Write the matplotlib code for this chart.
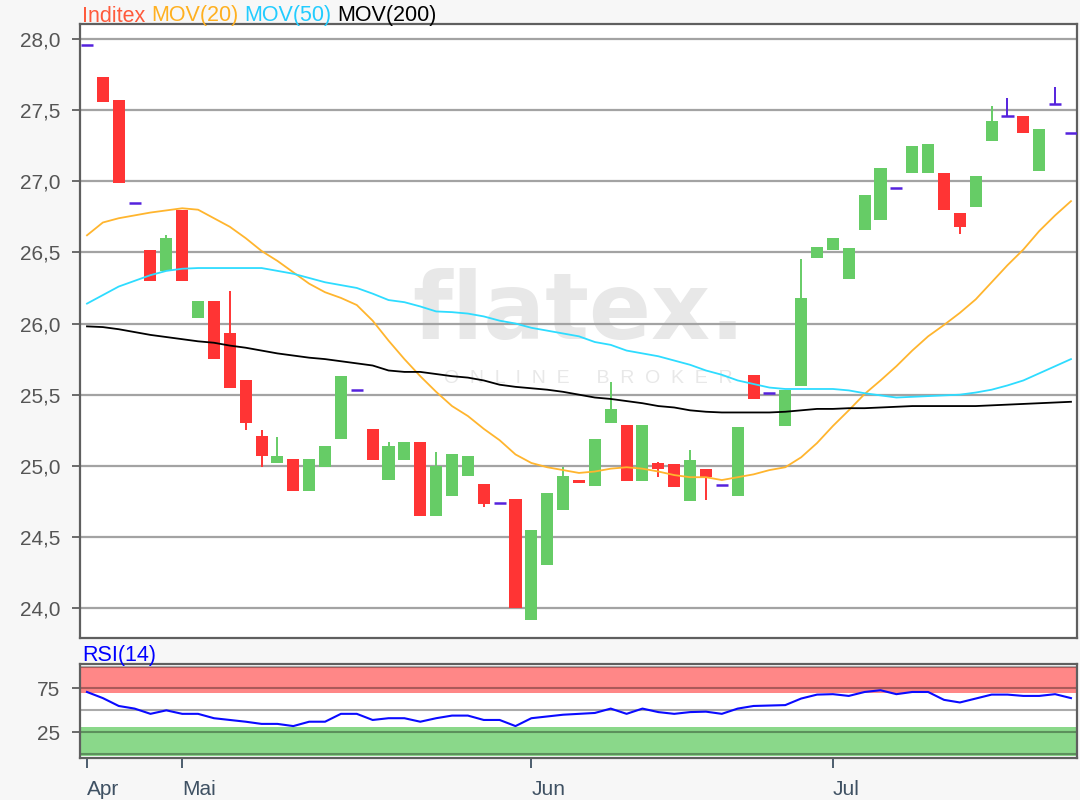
import matplotlib
matplotlib.use('Agg')
import matplotlib.pyplot as plt
import numpy as np

plt.rcParams['font.family'] = ['Liberation Sans', 'DejaVu Sans']

# daily candles, one per trading day
opens = [27.96, 27.73, 27.57, 26.85, 26.52, 26.37, 26.80, 26.04, 26.16, 25.93,
         25.60, 25.21, 25.02, 25.05, 24.82, 24.99, 25.19, 25.53, 25.26, 24.90,
         25.04, 25.17, 24.65, 24.79, 24.93, 24.87, 24.74, 24.77, 23.92, 24.30,
         24.69, 24.90, 24.86, 25.30, 25.29, 24.89, 25.02, 25.01, 24.75, 24.98,
         24.865, 24.79, 25.64, 25.51, 25.28, 25.56, 26.46, 26.52, 26.31, 26.66,
         26.73, 26.95, 27.06, 27.06, 27.06, 26.78, 26.82, 27.28, 27.455, 27.46,
         27.07, 27.54, 27.34]
highs = [27.96, 27.73, 27.57, 26.85, 26.52, 26.62, 26.80, 26.16, 26.16, 26.23,
         25.60, 25.25, 25.20, 25.05, 25.05, 25.14, 25.63, 25.53, 25.26, 25.17,
         25.17, 25.17, 25.10, 25.08, 25.07, 24.87, 24.74, 24.77, 24.55, 24.81,
         24.99, 24.90, 25.19, 25.59, 25.29, 25.29, 25.03, 25.01, 25.11, 24.98,
         24.865, 25.27, 25.64, 25.51, 25.53, 26.45, 26.54, 26.60, 26.53, 26.90,
         27.09, 26.95, 27.25, 27.26, 27.06, 26.78, 27.04, 27.53, 27.585, 27.46,
         27.37, 27.66, 27.34]
lows = [27.96, 27.56, 26.99, 26.85, 26.30, 26.37, 26.30, 26.04, 25.75, 25.55,
        25.25, 24.99, 25.02, 24.82, 24.82, 24.99, 25.19, 25.53, 25.04, 24.90,
        25.04, 24.65, 24.65, 24.79, 24.93, 24.71, 24.74, 24.00, 23.92, 24.30,
        24.69, 24.88, 24.86, 25.30, 24.89, 24.89, 24.92, 24.85, 24.75, 24.76,
        24.865, 24.79, 25.47, 25.51, 25.28, 25.56, 26.46, 26.52, 26.31, 26.66,
        26.73, 26.95, 27.06, 27.06, 26.80, 26.63, 26.82, 27.28, 27.455, 27.34,
        27.07, 27.54, 27.34]
closes = [27.96, 27.56, 26.99, 26.85, 26.30, 26.60, 26.30, 26.16, 25.75, 25.55,
          25.30, 25.07, 25.07, 24.82, 25.05, 25.14, 25.63, 25.53, 25.04, 25.14,
          25.17, 24.65, 25.00, 25.08, 25.07, 24.73, 24.74, 24.00, 24.55, 24.81,
          24.93, 24.88, 25.19, 25.40, 24.89, 25.29, 24.98, 24.85, 25.04, 24.92,
          24.865, 25.27, 25.47, 25.51, 25.53, 26.18, 26.54, 26.60, 26.53, 26.90,
          27.09, 26.95, 27.25, 27.26, 26.80, 26.68, 27.04, 27.42, 27.455, 27.34,
          27.37, 27.54, 27.34]

mov20 = [26.62, 26.71, 26.74, 26.76, 26.78, 26.795, 26.81, 26.80, 26.74, 26.68,
         26.60, 26.51, 26.44, 26.36, 26.28, 26.22, 26.18, 26.13, 26.02, 25.88,
         25.75, 25.63, 25.52, 25.42, 25.35, 25.26, 25.18, 25.08, 25.02, 24.99,
         24.97, 24.95, 24.96, 24.98, 24.99, 24.98, 24.96, 24.935, 24.92, 24.92,
         24.90, 24.92, 24.94, 24.97, 24.99, 25.06, 25.16, 25.28, 25.39, 25.505,
         25.60, 25.70, 25.81, 25.91, 25.99, 26.075, 26.17, 26.29, 26.41, 26.52,
         26.65, 26.76, 26.86]
mov50 = [26.14, 26.20, 26.26, 26.30, 26.34, 26.37, 26.385, 26.39, 26.39, 26.39,
         26.39, 26.39, 26.37, 26.35, 26.32, 26.29, 26.27, 26.25, 26.21, 26.165,
         26.15, 26.12, 26.085, 26.08, 26.07, 26.05, 26.02, 26.00, 25.97, 25.95,
         25.93, 25.91, 25.87, 25.85, 25.81, 25.79, 25.77, 25.74, 25.71, 25.67,
         25.64, 25.60, 25.575, 25.55, 25.54, 25.54, 25.54, 25.54, 25.53, 25.51,
         25.495, 25.48, 25.485, 25.49, 25.495, 25.50, 25.515, 25.535, 25.565, 25.60,
         25.65, 25.70, 25.75]
mov200 = [25.98, 25.975, 25.96, 25.94, 25.92, 25.905, 25.89, 25.875, 25.865, 25.845,
          25.83, 25.81, 25.79, 25.775, 25.76, 25.75, 25.735, 25.72, 25.705, 25.67,
          25.66, 25.66, 25.645, 25.63, 25.62, 25.60, 25.57, 25.555, 25.545, 25.535,
          25.52, 25.50, 25.48, 25.47, 25.455, 25.44, 25.42, 25.41, 25.39, 25.38,
          25.375, 25.375, 25.375, 25.375, 25.38, 25.39, 25.40, 25.40, 25.405, 25.405,
          25.41, 25.415, 25.42, 25.42, 25.42, 25.42, 25.42, 25.425, 25.43, 25.435,
          25.44, 25.445, 25.45]
rsi = [71, 64, 55, 52, 46, 50, 46, 46, 41, 39,
       37, 34.5, 34.5, 32, 37, 37, 46, 46, 39, 41,
       41, 37, 41, 44, 44, 39, 39, 32, 41, 43,
       45, 46, 47, 52, 46, 52, 48, 46, 48, 48.5,
       46, 52, 55, 55.5, 56, 63.5, 68, 68.5, 66.5, 71,
       73, 68.5, 71, 71, 62, 59, 63.5, 68, 68, 66.5,
       66.5, 68.5, 64]

month_labels = ['Apr', 'Mai', 'Jun', 'Jul']
month_index = [0, 6, 28, 47]
price_ticks = [24.0, 24.5, 25.0, 25.5, 26.0, 26.5, 27.0, 27.5, 28.0]
rsi_ticks = [25, 75]
rsi_grid = [0, 25, 50, 75, 100]

RED = '#ff3434'
GREEN = '#66cc66'
DOJI = '#5522dd'
BG = '#f7f7f7'
SPINE = '#5f5f5f'

fig = plt.figure(figsize=(10.8, 8), dpi=100, facecolor=BG)
W, H = 1080, 800
ax = fig.add_axes([80/W, 1-638/H, 997/W, 614/H])
rx = fig.add_axes([80/W, 1-758/H, 997/W, 94/H])

o = np.array(opens); c = np.array(closes)
h = np.array(highs); l = np.array(lows)
idx = np.arange(len(o))
up = c > o
dn = c < o
flat = c == o
w = 0.76

# candles
ax.vlines(idx[up], l[up], h[up], color=GREEN, lw=1.4, zorder=2)
ax.vlines(idx[dn], l[dn], h[dn], color=RED, lw=1.4, zorder=2)
ax.bar(idx[up], (c - o)[up], w, bottom=o[up], color=GREEN, zorder=3)
ax.bar(idx[dn], (o - c)[dn], w, bottom=c[dn], color=RED, zorder=3)
ax.vlines(idx[flat], l[flat], h[flat], color=DOJI, lw=1.4, zorder=3)
ax.hlines(o[flat], idx[flat] - w/2, idx[flat] + w/2, color=DOJI, lw=1.8, zorder=3)

# moving averages
ax.plot(idx, mov20, color='#ffb52e', lw=1.3, zorder=4)
ax.plot(idx, mov50, color='#2edcff', lw=1.3, zorder=4)
ax.plot(idx, mov200, color='black', lw=1.3, zorder=4)

# watermark
ax.text(0.50, 0.53, 'flatex.', transform=ax.transAxes, ha='center', va='center',
        fontsize=66, fontweight='bold', color='#e8e8e8', family='DejaVu Sans', zorder=0)
ax.text(0.51, 0.423, 'O  N  L  I  N  E     B  R  O  K  E  R', transform=ax.transAxes,
        ha='center', va='center', fontsize=14, color='#e8e8e8', zorder=0)

ax.set_xlim(-0.44, 62.38)
ax.set_ylim(23.79, 28.105)
ax.set_yticks(price_ticks)
ax.set_yticklabels([f'{v:.1f}'.replace('.', ',') for v in price_ticks])
ax.yaxis.grid(True, color='#a3a3a3', lw=1.6, zorder=1)
ax.set_axisbelow(True)
ax.tick_params(axis='x', bottom=False, labelbottom=False)
ax.tick_params(axis='y', length=6, width=1.3, color=SPINE, labelsize=15,
               labelcolor='#555555', pad=8)

# RSI panel
rx.axhspan(70, 100, color='#ff8787', lw=0, zorder=0)
rx.axhspan(-2.5, 31, color='#8ad88a', lw=0, zorder=0)
for g in rsi_grid:
    rx.axhline(g, color='black', alpha=0.33, lw=1.5, zorder=1)
rx.plot(idx, rsi, color='#0a0aff', lw=1.5, zorder=3)
rx.set_xlim(-0.44, 62.38)
rx.set_ylim(-4.5, 103)
rx.set_yticks(rsi_ticks)
rx.set_xticks(month_index)
rx.set_xticklabels(month_labels, ha='left')
rx.tick_params(axis='y', length=6, width=1.3, color=SPINE, labelsize=15,
               labelcolor='#555555', pad=8)
rx.tick_params(axis='x', length=7, width=1.3, color='#3f5163', labelsize=15,
               labelcolor='#3f5163', pad=9)

for a in (ax, rx):
    a.set_facecolor('white')
    for s in a.spines.values():
        s.set_color(SPINE)
        s.set_linewidth(1.6)

# coloured header texts
r = fig.canvas.get_renderer()
x = 82/W
for txt, col in [('Inditex', '#ff5a3c'), ('MOV(20)', '#ffb020'),
                 ('MOV(50)', '#22ccff'), ('MOV(200)', 'black')]:
    t = fig.text(x, 1-21.5/H, txt, color=col, fontsize=15.5, va='baseline', ha='left')
    x += t.get_window_extent(renderer=r).width / W + 6/W
fig.text(82/W, 1-661.5/H, 'RSI(14)', color='#0000ff', fontsize=15.5, va='baseline', ha='left')

fig.savefig('out.png', dpi=100, facecolor=BG)
